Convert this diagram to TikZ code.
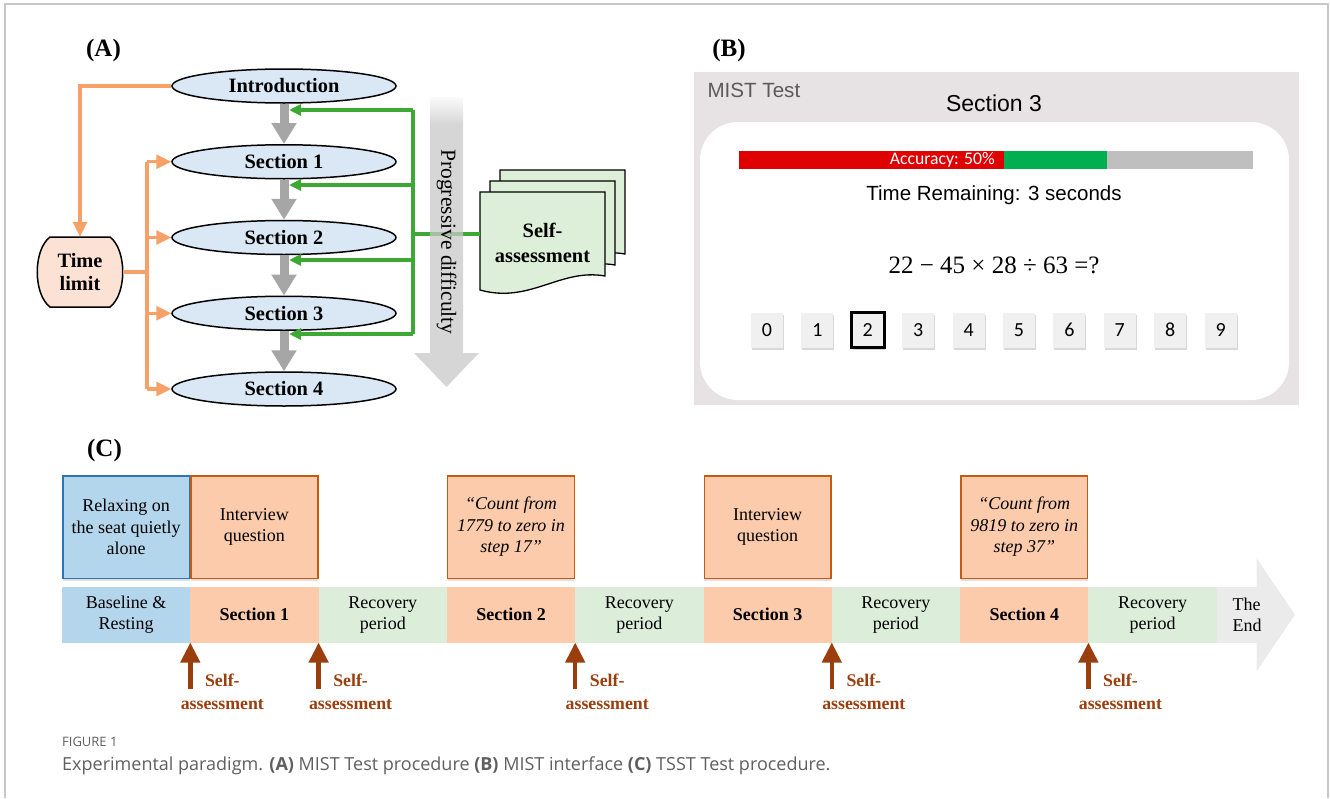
\documentclass[tikz,border=0pt]{standalone}
\usepackage{fontspec}
\setmainfont{Liberation Serif}
\setsansfont{Liberation Sans}
\newfontfamily\calibfont{Carlito}
\newfontfamily\captfont{Open Sans}
\usetikzlibrary{arrows.meta,shapes.geometric,shadows,fadings,positioning}

\definecolor{ellblue}{RGB}{218,232,245}
\definecolor{tlpeach}{RGB}{252,226,212}
\definecolor{orangeln}{RGB}{247,160,104}
\definecolor{greenln}{RGB}{62,168,52}
\definecolor{arrgray}{RGB}{166,166,166}
\definecolor{proggray}{RGB}{200,200,200}
\definecolor{docgreen}{RGB}{221,239,217}
\definecolor{panelgray}{RGB}{231,227,228}
\definecolor{mistgray}{RGB}{90,90,90}
\definecolor{accred}{RGB}{223,0,0}
\definecolor{accgreen}{RGB}{0,176,80}
\definecolor{accgray}{RGB}{191,191,191}
\definecolor{keygray}{RGB}{240,240,240}
\definecolor{baseblue}{RGB}{180,214,236}
\definecolor{baseedge}{RGB}{46,117,182}
\definecolor{secpeach}{RGB}{252,203,172}
\definecolor{secedge}{RGB}{197,90,17}
\definecolor{recgreen}{RGB}{220,238,218}
\definecolor{endgray}{RGB}{235,235,235}
\definecolor{sabrown}{RGB}{155,62,14}
\definecolor{captgray}{RGB}{95,95,95}

\newcommand{\fsz}[2]{\fontsize{#1}{#2}\selectfont}
\tikzfading[name=topfade, top color=transparent!0, bottom color=transparent!100]

\begin{document}
\begin{tikzpicture}[x=1pt,y=-1pt,
    ell/.style={ellipse, draw, line width=1.5pt, fill=ellblue, minimum width=224pt,
        minimum height=34pt, inner sep=0pt, font=\fsz{20.4}{24}\bfseries},
    grayarr/.style={arrgray, line width=9pt, -{Triangle[length=21pt,width=24pt]}},
    orgline/.style={orangeln, line width=3.2pt},
    orgarr/.style={orgline, -{Triangle[length=15pt,width=14pt]}},
    grnline/.style={greenln, line width=3.2pt},
    grnarr/.style={grnline, -{Triangle[length=12pt,width=11pt]}},
    keybox/.style={fill=keygray, minimum width=32pt, minimum height=35pt, inner sep=0pt,
        font=\calibfont\fsz{20}{24},
        drop shadow={shadow xshift=1pt, shadow yshift=-2.5pt, opacity=.3}},
    seg/.style={minimum width=128.3pt, minimum height=55.5pt, inner sep=0pt, outer sep=0pt,
        align=center, font=\fsz{18}{21}},
    topbox/.style={draw, line width=1.5pt, minimum width=126.8pt, minimum height=102.5pt,
        inner sep=0pt, align=center, font=\fsz{18}{21.5},
        drop shadow={shadow xshift=0pt, shadow yshift=-3pt, opacity=.25}},
    saarr/.style={sabrown, line width=4.5pt, -{Triangle[length=20pt,width=19pt]}},
    salabel/.style={sabrown, align=center, font=\fsz{17.8}{23}\bfseries}]
    \useasboundingbox (0,0) rectangle (1330,798);
    \draw[black!22, line width=1.5pt] (5,798) -- (5,4) -- (1328,4) -- (1328,798);

    % (A) flow of the MIST sections
    \node[font=\fsz{25}{28}\bfseries] (labA) at (103.5,50) {(A)};
    \node[ell] (intro) at (284,86) {Introduction};
    \node[ell, below=40.25pt of intro] (s1) {Section 1};
    \node[ell, below=40.25pt of s1] (s2) {Section 2};
    \node[ell, below=40.25pt of s2] (s3) {Section 3};
    \node[ell, below=40.25pt of s3] (s4) {Section 4};
    \foreach \a/\b in {intro/s1,s1/s2,s2/s3,s3/s4}
        \draw[grayarr] (\a.south) -- (\b.north);

    % stacked self-assessment sheets
    \foreach \dx/\dy in {500/170,490/181,480/192}
        \filldraw[fill=docgreen, draw=black, line width=1.3pt, shift={(\dx,\dy)}]
            (0,0) -- (125,0) -- (125,84) .. controls (80,76) and (50,112) .. (0,98) -- cycle;
    \node[font=\fsz{20.4}{25}\bfseries, align=center, minimum width=125pt, inner sep=0pt] (selfa) at (542.5,243) {Self-\\assessment};

    \coordinate (gbus) at (413,234);
    \draw[grnline] (413,110) -- (413,334);
    \foreach \y in {110,185,260,334}
        \draw[grnarr] (413,\y) -- (289,\y);
    \draw[grnline] (gbus) -- (selfa.west |- gbus);

    \fill[proggray, opacity=.75] (430,97) -- (463,97) -- (463,353) -- (479,353) -- (446.5,387)
        -- (414,353) -- (430,353) -- cycle;
    \fill[white, path fading=topfade] (426,94) rectangle (467,125);
    \node[rotate=-90, font=\fsz{21.5}{25}] (prog) at (446.5,242) {Progressive difficulty};

    % time limit
    \filldraw[fill=tlpeach, draw=black, line width=1.5pt] (50,237) -- (110,237)
        .. controls (127,250) and (127,294) .. (110,307) -- (50,307)
        .. controls (33,294) and (33,250) .. (50,237) -- cycle;
    \node[font=\fsz{20.4}{23}\bfseries, align=center, minimum width=86pt, minimum height=70pt, inner sep=0pt] (tlim) at (80,272) {Time\\limit};
    \coordinate (obus) at (147,272);
    \draw[orgarr] (intro.west) -| (tlim.north);
    \draw[orgline] (tlim.east) -- (obus);
    \draw[orgline] (obus |- s1.west) -- (obus |- s4.west);
    \foreach \s in {s1,s2,s3,s4}
        \draw[orgarr] (obus |- \s.west) -- (\s.west);

    % (B) the MIST screen
    \node[font=\fsz{25}{28}\bfseries] (labB) at (729,50) {(B)};
    \fill[panelgray] (694,72) rectangle (1299,405);
    \fill[white, rounded corners=38pt] (700,122) rectangle (1289,400);
    \node[anchor=west, text=mistgray, font=\sffamily\fsz{20.6}{24}] (mtitle) at (704,90) {MIST Test};
    \node[font=\sffamily\fsz{23}{27}] (sect) at (994,103) {Section 3};
    \fill[accred] (739,151) rectangle (1004,169);
    \fill[accgreen] (1004,151) rectangle (1107,169);
    \fill[accgray] (1107,151) rectangle (1253,169);
    \node[anchor=east, text=white, inner sep=0pt, font=\calibfont\fsz{17.7}{20}] (acc) at (995,160) {Accuracy: 50\%};
    \node[font=\sffamily\fsz{20.5}{24}] (trem) at (994,195) {Time Remaining: 3 seconds};
    \node[font=\fsz{25}{28}] (eqn) at (994,265) {22 − 45 × 28 ÷ 63 =?};
    \foreach \d in {0,...,9}
        \node[keybox] (k\d) at ({767+50.4*\d},330) {\d};
    \draw[line width=3pt] (k2.south west) rectangle (k2.north east);

    % (C) TSST time line
    \node[font=\fsz{25}{28}\bfseries] (labC) at (104.5,450) {(C)};
    \node[seg, fill=baseblue] (c0) at (126.15,614.75) {Baseline \&\\Resting};
    \node[seg, fill=secpeach, right=0pt of c0, font=\fsz{18}{21}\bfseries] (c1) {Section 1};
    \node[seg, fill=recgreen, right=0pt of c1] (c2) {Recovery\\period};
    \node[seg, fill=secpeach, right=0pt of c2, font=\fsz{18}{21}\bfseries] (c3) {Section 2};
    \node[seg, fill=recgreen, right=0pt of c3] (c4) {Recovery\\period};
    \node[seg, fill=secpeach, right=0pt of c4, font=\fsz{18}{21}\bfseries] (c5) {Section 3};
    \node[seg, fill=recgreen, right=0pt of c5] (c6) {Recovery\\period};
    \node[seg, fill=secpeach, right=0pt of c6, font=\fsz{18}{21}\bfseries] (c7) {Section 4};
    \node[seg, fill=recgreen, right=0pt of c7] (c8) {Recovery\\period};
    \node[seg, fill=endgray, right=0pt of c8, minimum width=40pt] (c9) {};
    \fill[endgray] ([yshift=28.5pt]c9.north east) -- (1295,614.75) -- ([yshift=-28.5pt]c9.south east) -- cycle;
    \node[anchor=west, align=left, font=\fsz{18}{21}] (theend) at (1229,614.75) {The\\End};

    \node[topbox, fill=baseblue, draw=baseedge] (t0) at (c0 |- 0,527) {Relaxing on\\the seat quietly\\alone};
    \node[topbox, fill=secpeach, draw=secedge] (t1) at (c1 |- 0,527) {Interview\\question};
    \node[topbox, fill=secpeach, draw=secedge, font=\fsz{18}{21.5}\itshape] (t3) at (c3 |- 0,527) {“Count from\\1779 to zero in\\step 17”};
    \node[topbox, fill=secpeach, draw=secedge] (t5) at (c5 |- 0,527) {Interview\\question};
    \node[topbox, fill=secpeach, draw=secedge, font=\fsz{18}{21.5}\itshape] (t7) at (c7 |- 0,527) {“Count from\\9819 to zero in\\step 37”};

    \foreach \n/\a [count=\i] in {c1/south west,c1/south east,c3/south east,c5/south east,c7/south east} {
        \draw[saarr] ([yshift=-46pt]\n.\a) -- (\n.\a);
        \node[salabel] (sa\i) at ([xshift=32pt,yshift=-49pt]\n.\a) {Self-\\assessment};
    }

    % caption
    \node[anchor=west, inner sep=0pt, text=captgray, font=\captfont\fsz{13}{15}] (fig) at (62,742) {FIGURE 1};
    \node[anchor=west, inner sep=0pt, text=captgray, font=\captfont\fsz{18}{21}] (capt) at (62,766)
        {Experimental paradigm. \textbf{(A)} MIST Test procedure \textbf{(B)} MIST interface \textbf{(C)} TSST Test procedure.};
\end{tikzpicture}
\end{document}
